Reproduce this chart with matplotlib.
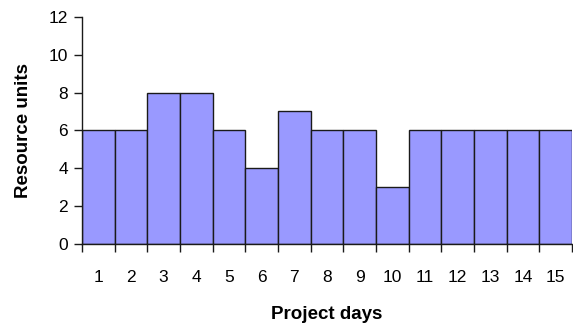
import matplotlib.pyplot as plt
from matplotlib.ticker import FixedLocator

plt.rcParams['font.family'] = ['Liberation Sans', 'DejaVu Sans']

days = list(range(1, 16))
units = [6, 6, 8, 8, 6, 4, 7, 6, 6, 3, 6, 6, 6, 6, 6]
yticks = [0, 2, 4, 6, 8, 10, 12]

fig = plt.figure(figsize=(5.73, 3.31), dpi=100)
ax = fig.add_axes((0.143, 0.263, 0.855, 0.686))

ax.bar(days, units, width=1.0, color="#9999FF", edgecolor="#1a1a1a", linewidth=1.0)

ax.set_xlim(0.5, 15.5)
ax.set_ylim(0, 12)
ax.set_yticks(yticks)
ax.set_xticks(days)
ax.set_xticklabels([str(d) for d in days])
ax.xaxis.set_minor_locator(FixedLocator([d - 0.5 for d in days] + [15.5]))

ax.spines['top'].set_visible(False)
ax.spines['right'].set_visible(False)
for s in ('left', 'bottom'):
    ax.spines[s].set_color("#1a1a1a")
    ax.spines[s].set_linewidth(1.0)

ax.tick_params(axis='x', which='major', length=0, pad=19, labelsize=12.5)
ax.tick_params(axis='x', which='minor', length=6, width=1.0, direction='out', color="#1a1a1a")
ax.tick_params(axis='y', length=6, width=1.0, direction='out', pad=4, labelsize=12.5, color="#1a1a1a")

ax.set_xlabel("Project days", fontsize=13.5, fontweight='bold', labelpad=15)
ax.set_ylabel("Resource units", fontsize=13.5, fontweight='bold', labelpad=12)

plt.savefig("out.png", dpi=100)
